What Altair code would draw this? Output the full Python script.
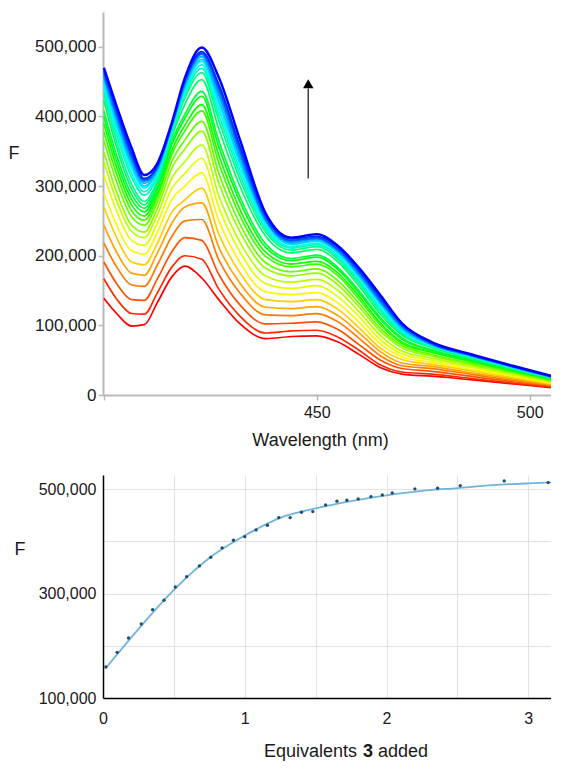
import colorsys
import altair as alt
import pandas as pd

# ---------------- top panel: emission spectra (values in thousands) ----------------
wavelengths = [400, 403, 406.5, 409.5, 412.5, 416, 419, 423, 427, 432, 438, 444,
               450, 455, 460, 465, 470, 477, 486, 496, 506]

# one list per wavelength; entries run from the first spectrum (red) to the last (blue)
f400 = [139, 167, 191, 218, 244, 270, 290, 316, 335, 349, 366, 378, 390, 400, 408, 423, 432, 438, 444, 449, 453, 457, 460, 463, 466, 470]
f403 = [117, 138, 160, 184, 205, 226, 244, 264, 279, 291, 306, 317, 327, 336, 344, 356, 364, 373, 380, 386, 391, 397, 401, 405, 409, 415]
f406 = [99, 117, 137, 158, 175, 191, 207, 222, 235, 244, 256, 265, 273, 281, 288, 296, 303, 313, 319, 326, 331, 336, 341, 344, 348, 355]
f409 = [101, 116, 136, 156, 172, 187, 202, 215, 226, 234, 244, 251, 257, 263, 268, 273, 278, 287, 292, 297, 300, 304, 307, 309, 311, 316]
f412 = [132, 146, 166, 186, 203, 217, 233, 246, 258, 267, 276, 283, 288, 294, 298, 303, 307, 313, 316, 320, 321, 324, 326, 327, 328, 332]
f416 = [170, 184, 206, 228, 247, 263, 281, 297, 312, 326, 336, 346, 352, 360, 365, 372, 377, 380, 382, 384, 385, 387, 388, 389, 390, 392]
f419 = [185, 200, 226, 250, 270, 280, 300, 318, 335, 353, 366, 379, 387, 397, 403, 417, 426, 431, 435, 439, 442, 445, 448, 450, 452, 455]
f423 = [168, 195, 222, 252, 276, 297, 319, 340, 359, 379, 393, 408, 417, 429, 436, 453, 463, 469, 474, 479, 482, 486, 489, 491, 493, 499]
f427 = [137, 152, 173, 194, 212, 231, 250, 269, 286, 304, 318, 333, 344, 356, 365, 382, 394, 402, 410, 417, 423, 430, 436, 441, 446, 456]
f432 = [102, 113, 129, 146, 160, 175, 190, 205, 219, 234, 245, 257, 266, 277, 284, 299, 309, 316, 323, 330, 335, 341, 347, 352, 357, 366]
f438 = [81, 89, 102, 115, 126, 137, 148, 160, 171, 182, 190, 199, 205, 212, 217, 228, 234, 238, 242, 245, 249, 251, 252, 255, 258, 261]
f444 = [84, 92, 103, 114, 124, 134, 144, 153, 162, 171, 177, 184, 188, 193, 196, 204, 208, 211, 213, 216, 217, 219, 221, 222, 224, 226]
f450 = [85, 93, 105, 117, 127, 137, 147, 157, 166, 175, 181, 188, 192, 198, 201, 209, 213, 216, 218, 221, 222, 224, 225, 226, 228, 231]
f455 = [76, 83, 94, 105, 114, 123, 132, 141, 150, 158, 164, 171, 175, 180, 183, 191, 195, 198, 200, 203, 205, 207, 208, 209, 212, 214]
f460 = [58, 64, 72, 81, 89, 96, 104, 112, 119, 126, 131, 137, 141, 146, 149, 156, 160, 163, 165, 169, 170, 173, 175, 177, 179, 182]
f465 = [39, 43, 50, 56, 62, 67, 73, 79, 85, 91, 95, 100, 103, 108, 111, 116, 120, 123, 125, 129, 131, 133, 135, 137, 140, 143]
f470 = [30, 33, 38, 42, 46, 51, 55, 59, 63, 68, 71, 74, 76, 80, 82, 86, 88, 90, 92, 94, 95, 97, 99, 100, 102, 103]
f477 = [27, 30, 34, 38, 41, 44, 47, 50, 53, 56, 58, 61, 62, 64, 65, 68, 69, 70, 71, 72, 72, 73, 73, 74, 75, 76]
f486 = [22, 24, 27, 30, 32, 35, 37, 40, 42, 44, 46, 48, 49, 50, 51, 53, 54, 55, 56, 56, 57, 57, 57, 58, 58, 59]
f496 = [16, 17, 19, 21, 23, 25, 27, 28, 30, 32, 33, 34, 35, 36, 36, 38, 38, 39, 39, 40, 40, 40, 41, 41, 41, 42]
f506 = [10, 11, 12, 13, 14, 15, 16, 17, 18, 19, 20, 21, 21, 22, 22, 23, 23, 24, 24, 24, 24, 24, 25, 25, 25, 26]

spectra_columns = [f400, f403, f406, f409, f412, f416, f419, f423, f427, f432, f438,
                   f444, f450, f455, f460, f465, f470, f477, f486, f496, f506]

x_ticks_top = [400, 450, 500]
y_ticks_top = [0, 100000, 200000, 300000, 400000, 500000]

# arrow annotation (data coordinates)
arrow_wl = [448]
arrow_from = [311000]
arrow_to = [440000]
arrow_tip = [447000]

# ---------------- bottom panel: titration ----------------
equiv = [0.02, 0.10, 0.18, 0.27, 0.35, 0.43, 0.51, 0.59, 0.68, 0.76, 0.84, 0.92, 1.00,
         1.08, 1.16, 1.24, 1.32, 1.40, 1.48, 1.57, 1.65, 1.72, 1.80, 1.89, 1.97, 2.04,
         2.20, 2.36, 2.52, 2.83, 3.14]
f_obs = [159400, 187500, 214900, 241800, 269200, 287200, 312600, 332400, 352900,
         369500, 387400, 402100, 409000, 421800, 430800, 445400, 445400, 455700,
         456900, 469700, 476800, 478700, 481200, 485600, 488900, 492700, 500400,
         501700, 506700, 515700, 512500]
fit_equiv = [0.02, 0.25, 0.5, 0.75, 1.0, 1.25, 1.5, 1.75, 2.0, 2.25, 2.5, 2.75, 3.0, 3.18]
fit_f = [157500, 232000, 307000, 368000, 411000, 445000, 463000, 477000, 488000,
         496500, 502000, 507500, 511000, 513000]
x_grid_bottom = [0, 0.25, 0.5, 0.75, 1.0, 1.25, 1.5, 1.75, 2.0, 2.25, 2.5, 2.75, 3.0]
y_grid_bottom = [100000, 150000, 200000, 250000, 300000, 350000, 400000, 450000, 500000]

# ---------------- tables ----------------
n_series = len(f400)
series_names = [f"s{i:02d}" for i in range(n_series)]
rows = []
for i, name in enumerate(series_names):
    for w, col in zip(wavelengths, spectra_columns):
        rows.append({"wavelength": w, "F": col[i] * 1000, "series": name})
spec_df = pd.DataFrame(rows)

colors = []
for i in range(n_series):
    r, g, b = colorsys.hsv_to_rgb((240 / 360) * i / (n_series - 1), 1, 1)
    colors.append("#%02x%02x%02x" % (round(r * 255), round(g * 255), round(b * 255)))

arrow_df = pd.DataFrame({"wl": arrow_wl, "y": arrow_from, "y2": arrow_to, "tip": arrow_tip})
obs_df = pd.DataFrame({"equiv": equiv, "F": f_obs})
fit_df = pd.DataFrame({"equiv": fit_equiv, "F": fit_f})

FONT = "Liberation Sans"
TXT = "#1a1a1a"
GREY = "#b9b9b9"
GRID = "#e2e2e2"
PLOT_W = 448

# ---------------- top chart ----------------
x_top_scale = alt.Scale(domain=[399.8, 505], nice=False, zero=False)
y_top_scale = alt.Scale(domain=[0, 550000], nice=False)

x_top = alt.X(
    "wavelength:Q", scale=x_top_scale,
    axis=alt.Axis(values=x_ticks_top, labelExpr="datum.value == 400 ? '' : datum.label",
                  title="Wavelength (nm)", titleX=217, titleY=45, titleAlign="center",
                  titleBaseline="middle", grid=False, domainColor=GREY, domainWidth=2,
                  tickColor=GREY, tickWidth=1.5, tickSize=5, labelPadding=4,
                  labelFontSize=16, titleFontSize=18, labelFlush=False,
                  titleFontWeight="normal", labelColor=TXT, titleColor=TXT,
                  labelFont=FONT, titleFont=FONT))
y_top = alt.Y(
    "F:Q", scale=y_top_scale,
    axis=alt.Axis(values=y_ticks_top, format=",d", title="F", titleAngle=0, titleX=-95,
                  titleY=141, titleAlign="left", titleBaseline="middle", grid=False,
                  domainColor=GREY, domainWidth=2, tickColor=GREY, tickWidth=1.5,
                  tickSize=5, labelPadding=2, labelFontSize=17, titleFontSize=18,
                  titleFontWeight="normal", labelColor=TXT, titleColor=TXT,
                  labelFont=FONT, titleFont=FONT))

spectra = alt.Chart(spec_df).mark_line(interpolate="monotone", clip=True).encode(
    x=x_top, y=y_top,
    color=alt.Color("series:N", scale=alt.Scale(domain=series_names, range=colors), legend=None),
    strokeWidth=alt.condition(alt.datum.series == series_names[-1], alt.value(2.4), alt.value(1.7)),
)

arrow_line = alt.Chart(arrow_df).mark_rule(color="#3a3a3a", strokeWidth=1.5).encode(
    x=alt.X("wl:Q", scale=x_top_scale), y=alt.Y("y:Q", scale=y_top_scale), y2="y2:Q")
arrow_head = alt.Chart(arrow_df).mark_point(shape="triangle-up", filled=True, color="black",
                                            size=110, opacity=1).encode(
    x=alt.X("wl:Q", scale=x_top_scale), y=alt.Y("tip:Q", scale=y_top_scale))

top = alt.layer(spectra, arrow_line, arrow_head).properties(width=PLOT_W, height=383)

# ---------------- bottom chart ----------------
x_bot_scale = alt.Scale(domain=[0, 3.16], nice=False, zero=False)
y_bot_scale = alt.Scale(domain=[100000, 527000], nice=False, zero=False)

x_bot = alt.X(
    "equiv:Q", scale=x_bot_scale,
    axis=alt.Axis(values=x_grid_bottom, format="~g",
                  labelExpr="datum.value % 1 === 0 ? datum.label : ''",
                  title=None, grid=True, gridColor=GRID, gridWidth=1, ticks=False,
                  domainColor="black", domainWidth=1.5, labelPadding=12, labelFontSize=16,
                  labelFlush=False, labelColor=TXT, labelFont=FONT, labelOverlap=False))
y_bot = alt.Y(
    "F:Q", scale=y_bot_scale,
    axis=alt.Axis(values=y_grid_bottom, format=",d",
                  labelExpr="(datum.value / 100000) % 2 === 1 ? datum.label : ''",
                  title="F", titleAngle=0, titleX=-89, titleY=74, titleAlign="left",
                  titleBaseline="middle", grid=True, gridColor=GRID, gridWidth=1,
                  ticks=False, domainColor="black", domainWidth=1.5, labelPadding=7,
                  labelFontSize=16, titleFontSize=18, titleFontWeight="normal",
                  labelColor=TXT, titleColor=TXT, labelFont=FONT, titleFont=FONT,
                  labelOverlap=False))

fit_line = alt.Chart(fit_df).mark_line(interpolate="monotone", color="#72b3dc",
                                       strokeWidth=1.8, clip=True).encode(x=x_bot, y=y_bot)
obs_pts = alt.Chart(obs_df).mark_point(filled=True, size=11, color="#1f4d69",
                                       opacity=1).encode(
    x=alt.X("equiv:Q", scale=x_bot_scale), y=alt.Y("F:Q", scale=y_bot_scale))

label_df = pd.DataFrame({"k": [0]})
TITLE_Y = 282
t1 = alt.Chart(label_df).mark_text(text="Equivalents", align="left", baseline="alphabetic",
                                   font=FONT, fontSize=18, color=TXT).encode(
    x=alt.value(161), y=alt.value(TITLE_Y))
t2 = alt.Chart(label_df).mark_text(text="3", align="left", baseline="alphabetic",
                                   font=FONT, fontSize=18, fontWeight="bold", color=TXT).encode(
    x=alt.value(260), y=alt.value(TITLE_Y))
t3 = alt.Chart(label_df).mark_text(text="added", align="left", baseline="alphabetic",
                                   font=FONT, fontSize=18, color=TXT).encode(
    x=alt.value(275), y=alt.value(TITLE_Y))

bottom = alt.layer(fit_line, obs_pts, t1, t2, t3).properties(width=PLOT_W, height=223)

chart = alt.vconcat(top, bottom, spacing=26).properties(
    padding={"left": 0, "top": 4, "right": 0, "bottom": 0},
    background="white",
).configure_view(stroke=None)

chart.save("out.html", embed_options={"renderer": "svg", "actions": False})
